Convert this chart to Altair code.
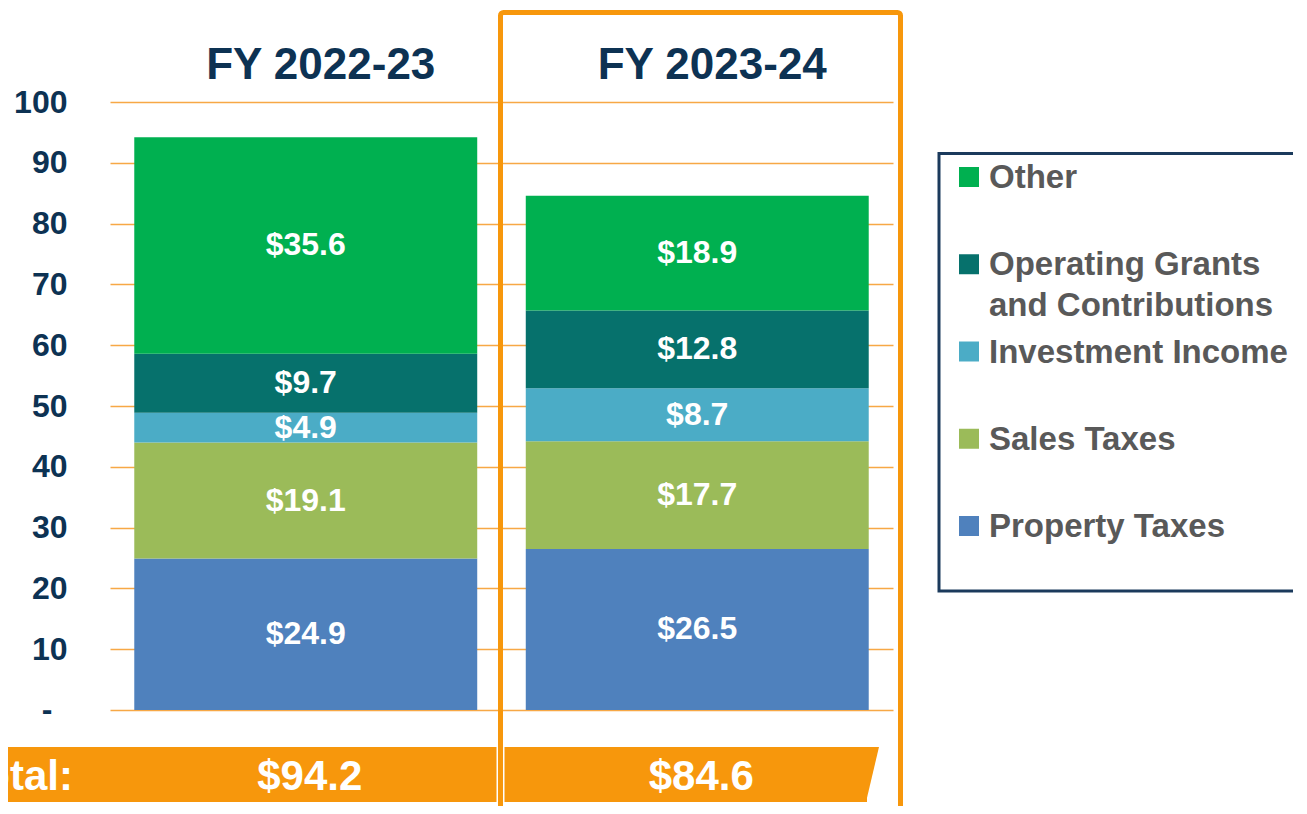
import altair as alt
import pandas as pd

# ---------------- data ----------------
years = ["FY 2022-23", "FY 2023-24"]
categories = ["Property Taxes", "Sales Taxes", "Investment Income",
              "Operating Grants and Contributions", "Other"]
values_2223 = [24.9, 19.1, 4.9, 9.7, 35.6]
values_2324 = [26.5, 17.7, 8.7, 12.8, 18.9]
colors = ["#4F81BD", "#9BBB59", "#4BACC6", "#06716C", "#00B050"]
legend_order = ["Other", "Operating Grants and Contributions", "Investment Income",
                "Sales Taxes", "Property Taxes"]
legend_labels = ["Other", "Operating Grants\nand Contributions", "Investment Income",
                 "Sales Taxes", "Property Taxes"]
y_ticks = [0, 10, 20, 30, 40, 50, 60, 70, 80, 90, 100]
zero_label = ["-"]
total_label = ["Total:"]

# ---------------- styles ----------------
FONT = "Liberation Sans"
NAVY = "#0D3253"
ORANGE = "#F7970C"
GRID = "#F7A846"
GREY = "#595959"

rows = []
for yr, vals in zip(years, [values_2223, values_2324]):
    for i, (c, v) in enumerate(zip(categories, vals)):
        rows.append({"year": yr, "category": c, "value": v, "order": i})
df = pd.DataFrame(rows)
legend_df = pd.DataFrame({"category": legend_order, "label": legend_labels})
one = pd.DataFrame({"label": total_label})
zero_df = pd.DataFrame({"v": [y_ticks[0]], "label": zero_label})

color_scale = alt.Scale(domain=categories, range=colors)

x_enc = alt.X(
    "year:N", sort=years, title=None,
    scale=alt.Scale(paddingInner=0.124, paddingOuter=0.062),
    axis=alt.Axis(orient="top", domain=False, ticks=False, labelAngle=0,
                  labelFont=FONT, labelFontSize=44, labelFontWeight="bold",
                  labelColor=NAVY, labelPadding=24, labelBaseline="alphabetic",
                  labelOffset=15, labelLimit=0),
)
y_enc = alt.Y(
    "value:Q", stack="zero", title=None,
    scale=alt.Scale(domain=[0, 100], nice=False),
    axis=alt.Axis(values=y_ticks, domain=False, ticks=False, grid=True,
                  gridColor=GRID, gridWidth=1.5, labelFont=FONT, labelFontSize=32,
                  labelFontWeight="bold", labelColor=NAVY, labelPadding=43,
                  labelExpr="datum.value == 0 ? '' : datum.label"),
)

bars = alt.Chart(df).mark_bar().encode(
    x=x_enc,
    y=y_enc,
    color=alt.Color("category:N", scale=color_scale, legend=None),
    order=alt.Order("order:Q", sort="ascending"),
)

# "-" label for the zero tick (accounting style, offset left of the other labels)
zero_tick = alt.Chart(zero_df).mark_text(
    font=FONT, fontSize=32, fontWeight="bold", color=NAVY, baseline="middle"
).encode(x=alt.value(-63), y=alt.Y("v:Q", title=None), text="label:N")

labels = alt.Chart(df).transform_stack(
    stack="value", groupby=["year"],
    sort=[alt.SortField("order", order="ascending")], as_=["v0", "v1"],
).transform_calculate(
    mid="(datum.v0 + datum.v1) / 2",
    lbl="'$' + format(datum.value, '.1f')",
).mark_text(font=FONT, fontSize=32, fontWeight="bold", color="white",
            baseline="middle").encode(
    x=alt.X("year:N", sort=years, title=None),
    y=alt.Y("mid:Q", title=None),
    text="lbl:N",
)

# total banner (pixel positions inside the plot area)
banner = alt.Chart(one).mark_rect(color=ORANGE).encode(
    x=alt.value(-110), x2=alt.value(757), y=alt.value(645), y2=alt.value(700)
)
banner_tip = alt.Chart(one).mark_point(
    shape="M-0.236,-1L0.236,-1L-0.236,1Z", filled=True, size=3025,
    color=ORANGE, opacity=1, strokeWidth=0,
).encode(x=alt.value(762.5), y=alt.value(672.5))
banner_gap = alt.Chart(one).mark_rect(color="white").encode(
    x=alt.value(386.5), x2=alt.value(394.5), y=alt.value(644), y2=alt.value(701)
)

total_word = alt.Chart(one).mark_text(
    font=FONT, fontSize=42, fontWeight="bold", color="white",
    align="right", baseline="alphabetic",
).encode(x=alt.value(-37), y=alt.value(688), text="label:N")

totals = alt.Chart(df).transform_aggregate(
    total="sum(value)", groupby=["year"]
).transform_calculate(
    lbl="'$' + format(datum.total, '.1f')"
).mark_text(font=FONT, fontSize=42, fontWeight="bold", color="white",
            baseline="alphabetic", dx=4).encode(
    x=alt.X("year:N", sort=years, title=None),
    y=alt.value(688),
    text="lbl:N",
)

highlight = alt.Chart(one).mark_rect(
    fillOpacity=0, stroke=ORANGE, strokeWidth=5, cornerRadius=3
).encode(x=alt.value(390.5), x2=alt.value(790.5), y=alt.value(-89.5), y2=alt.value(760))

main = alt.layer(bars, zero_tick, labels, banner, banner_tip, banner_gap,
                 total_word, totals, highlight)

legend_y = alt.Y("category:N", title=None, axis=None,
                 scale=alt.Scale(domain=legend_order, range=[75, 424], padding=0))

legend_box = alt.Chart(one).mark_rect(
    fillOpacity=0, stroke="#1B3A5C", strokeWidth=3
).encode(x=alt.value(829), x2=alt.value(1250), y=alt.value(51.5), y2=alt.value(489))

legend_sq = alt.Chart(legend_df).mark_square(size=400, filled=True, opacity=1).encode(
    x=alt.value(859), y=legend_y,
    color=alt.Color("category:N", scale=color_scale, legend=None),
)
legend_txt = alt.Chart(legend_df).mark_text(
    align="left", baseline="alphabetic", dy=11, font=FONT, fontSize=33,
    fontWeight="bold", color=GREY, lineBreak="\n", lineHeight=41,
).encode(x=alt.value(879), y=legend_y, text="label:N")

legend = alt.layer(legend_box, legend_sq, legend_txt)

chart = alt.layer(main, legend).resolve_scale(y="independent").properties(
    width=783, height=608,
    padding={"left": 102, "top": 94, "right": 400, "bottom": 96},
    autosize=alt.AutoSizeParams(type="none"),
).configure_view(stroke=None)

chart.save("out.html", embed_options={"renderer": "svg", "actions": False})
